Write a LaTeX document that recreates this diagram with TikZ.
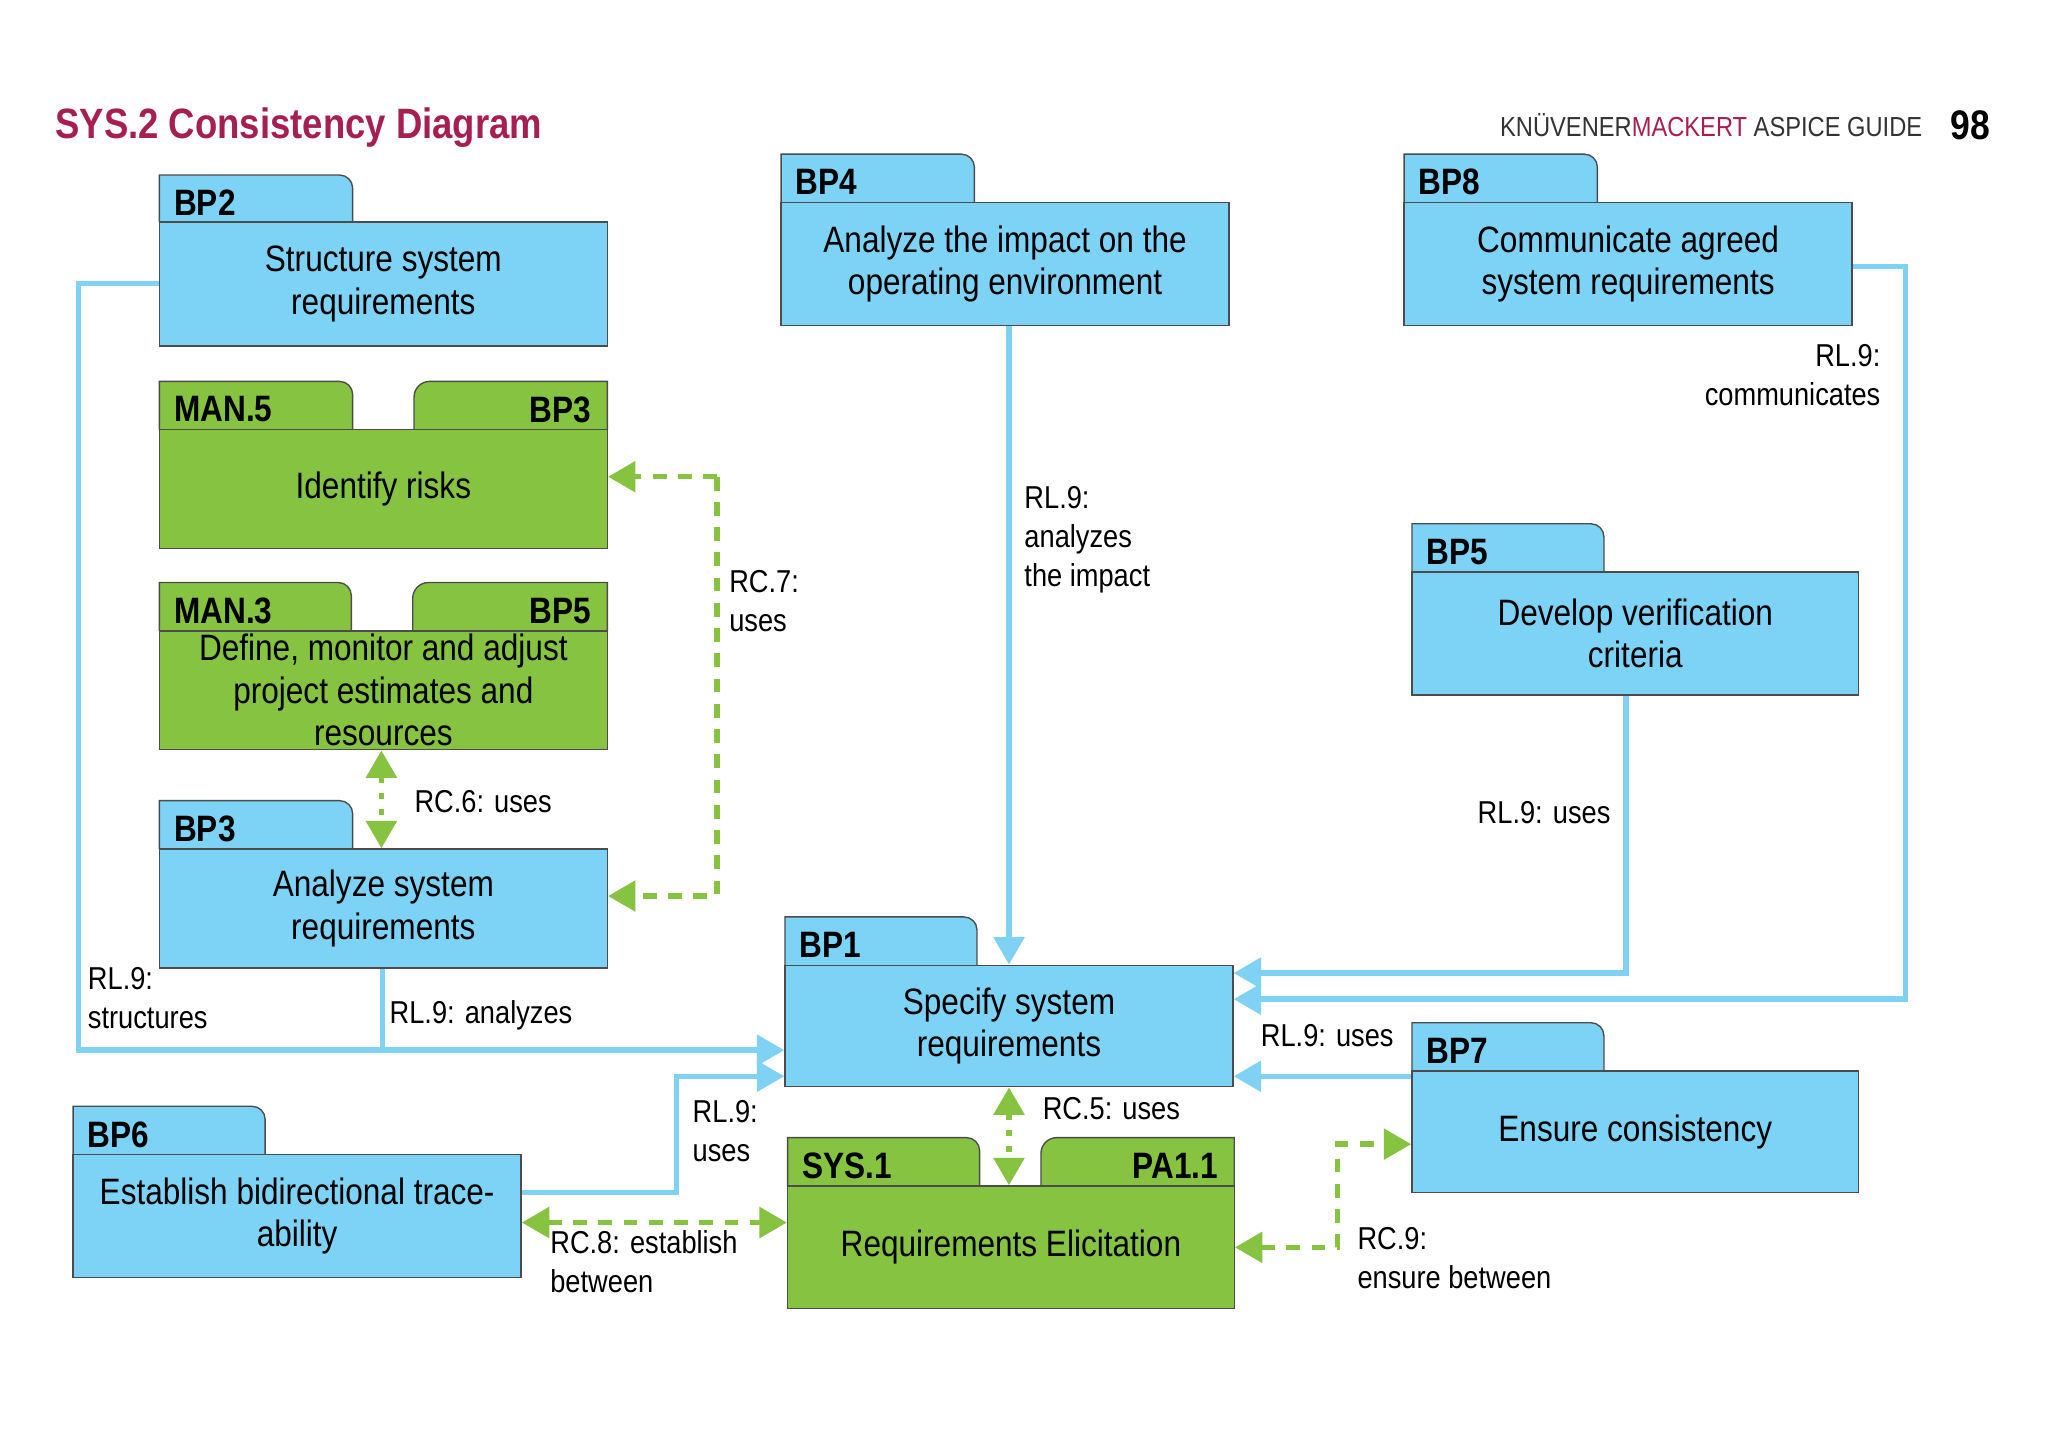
\documentclass[tikz,border=0pt]{standalone}
\usepackage{fontspec}
\setmainfont{Liberation Sans}[FakeStretch=0.86]
\usetikzlibrary{arrows.meta}
\definecolor{bfill}{HTML}{7DD3F5}
\definecolor{gfill}{HTML}{86C340}
\definecolor{bline}{HTML}{7FD2F4}
\definecolor{gline}{HTML}{86C340}
\definecolor{maroon}{HTML}{A6204F}
\definecolor{gtxt}{HTML}{333333}
\tikzset{
 x=0.02cm,y=-0.02cm,
 body/.style={draw=black!70,line width=0.6pt,inner sep=0pt,align=center,font=\fontsize{16}{18.5}\selectfont},
 tabs/.style={draw=black!70,line width=0.6pt},
 bl/.style={draw=bline,line width=2.4pt},
 gl/.style={draw=gline,line width=2.4pt,dash pattern=on 6pt off 5pt},
 gd/.style={draw=gline,line width=2.4pt,dash pattern=on 3pt off 4pt},
 tip/.style={-{Triangle[length=0.42cm,width=0.46cm]}},
 tips/.style={{Triangle[length=0.42cm,width=0.46cm]}-{Triangle[length=0.42cm,width=0.46cm]}},
 lab/.style={font=\fontsize{13.8}{17}\selectfont,align=left,inner sep=0pt},
 tl/.style={font=\bfseries\fontsize{16}{18}\selectfont,inner sep=0pt}
}
\newcommand{\mybox}[7]{\node[body,fill=#6,minimum width={(#4-#2)*0.02cm},minimum height={(#5-#3)*0.02cm}] (#1) at ({(#2+#4)/2},{(#3+#5)/2}) {#7};}
\newcommand{\ltab}[6]{\draw[tabs,fill=#5] (#1,#4) -- (#1,#2) -- (#3-10,#2) to[out=0,in=90] (#3,#2+10) -- (#3,#4);
 \node[tl,anchor=west] at (#1+11,{(#2+#4)/2+3}) {#6};}
\newcommand{\rtab}[6]{\draw[tabs,fill=#5] (#3,#4) -- (#3,#2) -- (#1+12,#2) to[out=180,in=90] (#1,#2+12) -- (#1,#4);
 \node[tl,anchor=east] at (#3-12,{(#2+#4)/2+3}) {#6};}
\begin{document}
\begin{tikzpicture}
\useasboundingbox[fill=white] (0,0) rectangle (1568,1112);
\node[anchor=west,inner sep=0pt,text=maroon,font=\bfseries\fontsize{18.5}{22}\selectfont] (title) at (42,98) {SYS.2 Consistency Diagram};
\node[anchor=east,inner sep=0pt,font=\fontsize{12}{14}\selectfont] (hdr) at (1472,96) {\textcolor{gtxt}{KNÜVENER}\textcolor{maroon}{MACKERT} \textcolor{gtxt}{ASPICE GUIDE}};
\node[anchor=east,inner sep=0pt,font=\bfseries\fontsize{18}{20}\selectfont] (pg) at (1524,96) {98};

\ltab{122}{134}{270}{170}{bfill}{BP2}
\mybox{bp2}{122}{170}{465}{265}{bfill}{Structure system\\requirements}
\ltab{122}{292}{270}{329}{gfill}{MAN.5}
\rtab{317}{292}{465}{329}{gfill}{BP3}
\mybox{man5}{122}{329}{465}{420}{gfill}{Identify risks}
\ltab{122}{446}{269}{483}{gfill}{MAN.3}
\rtab{316}{446}{465}{483}{gfill}{BP5}
\mybox{man3}{122}{483}{465}{574}{gfill}{Define, monitor and adjust\\project estimates and\\resources}
\ltab{122}{613}{270}{650}{bfill}{BP3}
\mybox{bp3}{122}{650}{465}{741}{bfill}{Analyze system\\requirements}
\ltab{598}{118}{746}{155}{bfill}{BP4}
\mybox{bp4}{598}{155}{941}{249}{bfill}{Analyze the impact on the\\operating environment}
\ltab{1075}{118}{1223}{155}{bfill}{BP8}
\mybox{bp8}{1075}{155}{1418}{249}{bfill}{Communicate agreed\\system requirements}
\ltab{1081}{401}{1228}{438}{bfill}{BP5}
\mybox{bp5}{1081}{438}{1423}{532}{bfill}{Develop verification\\criteria}
\ltab{601}{702}{748}{739}{bfill}{BP1}
\mybox{bp1}{601}{739}{944}{832}{bfill}{Specify system\\requirements}
\ltab{1081}{783}{1228}{820}{bfill}{BP7}
\mybox{bp7}{1081}{820}{1423}{913}{bfill}{Ensure consistency}
\ltab{56}{847}{203}{884}{bfill}{BP6}
\mybox{bp6}{56}{884}{399}{978}{bfill}{Establish bidirectional trace-\\ability}
\ltab{603}{871}{750}{908}{gfill}{SYS.1}
\rtab{797}{871}{945}{908}{gfill}{PA1.1}
\mybox{sys1}{603}{908}{945}{1002}{gfill}{Requirements Elicitation}

\coordinate (c1) at (60,217); \coordinate (c2) at (60,804);
\coordinate (c3) at (293,804);
\coordinate (c4) at (1459,204); \coordinate (c5) at (1459,765);
\coordinate (c6) at (1245,745);
\coordinate (c7) at (518,913); \coordinate (c8) at (518,824);
\coordinate (g1) at (549,365); \coordinate (g2) at (549,686);
\coordinate (g3) at (1024,955); \coordinate (g4) at (1024,876);

\draw[bl] (bp2.west|-c1) -- (c1) -- (c2) -- (c3);
\draw[bl] (bp3.south-|c3) -- (c3);
\draw[bl,tip] (c2) -- (bp1.west|-c2);
\draw[bl,tip] (bp4.south-|bp1.north) -- (bp1.north);
\draw[bl,tip] (bp8.east|-c4) -- (c4) -- (c5) -- (bp1.east|-c5);
\draw[bl,tip] (bp5.south-|c6) -- (c6) -- (bp1.east|-c6);
\draw[bl,tip] (bp7.west|-0,824) -- (bp1.east|-0,824);
\draw[bl,tip] (bp6.east|-c7) -- (c7) -- (c8) -- (bp1.west|-c8);

\draw[gl,tip] (g1) -- (man5.east|-g1);
\draw[gl,tip] (g1) -- (g2) -- (bp3.east|-g2);
\draw[gd,tips] (man3.south-|292,0) -- (bp3.north-|292,0);
\draw[gd,tips] (bp1.south) -- (bp1.south|-sys1.north);
\draw[gl,tips] (bp6.east|-0,936) -- (sys1.west|-0,936);
\draw[gl,tips] (sys1.east|-g3) -- (g3) -- (g4) -- (bp7.west|-g4);

\node[lab,anchor=north west] (l1) at (67,740) {RL.9:\\structures};
\node[lab,anchor=west] (l2) at (298,777) {RL.9: analyzes};
\node[lab,anchor=north west] (l3) at (784,372) {RL.9:\\analyzes\\the impact};
\node[lab,anchor=north east,align=right] (l4) at (1440,263) {RL.9:\\communicates};
\node[lab,anchor=west] (l5) at (1131,622) {RL.9: uses};
\node[lab,anchor=west] (l6) at (965,793) {RL.9: uses};
\node[lab,anchor=north west] (l7) at (530,842) {RL.9:\\uses};
\node[lab,anchor=north west] (l8) at (558,436) {RC.7:\\uses};
\node[lab,anchor=west] (l9) at (317,614) {RC.6: uses};
\node[lab,anchor=west] (l10) at (798,849) {RC.5: uses};
\node[lab,anchor=north west] (l11) at (421,942) {RC.8: establish\\between};
\node[lab,anchor=north west] (l12) at (1039,939) {RC.9:\\ensure between};
\end{tikzpicture}
\end{document}
